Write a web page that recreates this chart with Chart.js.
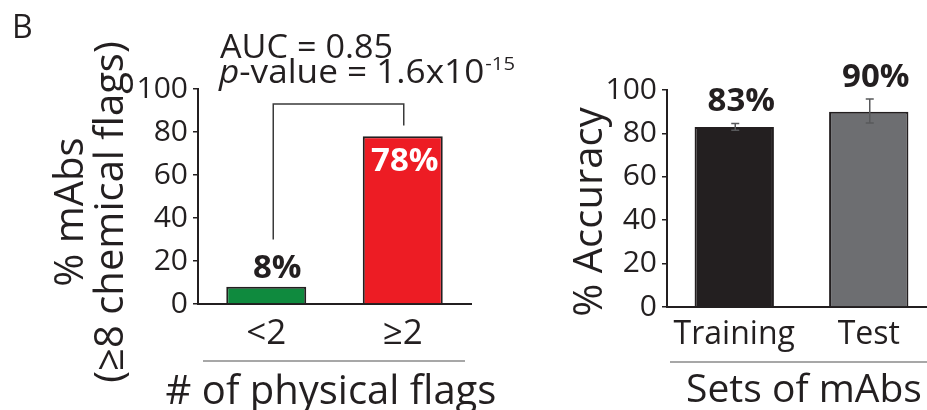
<!DOCTYPE html>
<html><head><meta charset="utf-8">
<script src="https://cdn.jsdelivr.net/npm/chart.js@4"></script>
<style>
html,body{margin:0;padding:0;background:#fff;width:927px;height:410px;overflow:hidden;position:relative}
.box{position:absolute;top:0;height:410px}
#boxL{left:0;width:540px}
#boxR{left:540px;width:400px}
canvas{display:block}
</style></head><body>
<div class="box" id="boxL"><canvas id="cL" width="540" height="410"></canvas></div>
<div class="box" id="boxR"><canvas id="cR" width="400" height="410"></canvas></div>
<script>
// ---- data ----
const panelLetter = 'B';
const physCategories = ['<2', '≥2'];
const physValues = [8, 78];
const physLabels = ['8%', '78%'];
const bracketLevels = [30, 93, 83];      // left foot, top bar, right foot (data units)
const aucText = 'AUC = 0.85';
const pItalic = 'p';
const pBody = '-value = 1.6x10';
const pExp = '-15';
const setCategories = ['Training', 'Test'];
const accValues = [83, 90];
const accErrLow = [81.4, 84.8];
const accErrHigh = [84.6, 95.8];
const accLabels = ['83%', '90%'];
const yTickValues = [0, 20, 40, 60, 80, 100];
const leftYTitle = ['% mAbs', '(≥8 chemical flags)'];
const leftXTitle = '# of physical flags';
const rightYTitle = '% Accuracy';
const rightXTitle = 'Sets of mAbs';

const FONT = "'Open Sans', sans-serif";
const INK = '#231f20';
Chart.defaults.font.family = FONT;
Chart.defaults.color = INK;

function text(ctx, s, x, y, font, color, align, baseline) {
  ctx.save();
  ctx.font = font; ctx.fillStyle = color;
  ctx.textAlign = align || 'center'; ctx.textBaseline = baseline || 'alphabetic';
  ctx.fillText(s, x, y);
  ctx.restore();
}
function vtext(ctx, s, x, y, font, color) {
  ctx.save();
  ctx.translate(x, y); ctx.rotate(-Math.PI / 2);
  ctx.font = font; ctx.fillStyle = color;
  ctx.textAlign = 'center'; ctx.textBaseline = 'middle';
  ctx.fillText(s, 0, 0);
  ctx.restore();
}
function hline(ctx, x1, x2, y, color, w) {
  ctx.save(); ctx.strokeStyle = color; ctx.lineWidth = w;
  ctx.beginPath(); ctx.moveTo(x1, y); ctx.lineTo(x2, y); ctx.stroke(); ctx.restore();
}
// draws a run of [string, font] pieces starting at x, horizontally scaled to span targetW
function runFit(ctx, pieces, x, y, targetW, color) {
  ctx.save();
  let w = 0;
  pieces.forEach(p => { ctx.font = p[1]; w += ctx.measureText(p[0]).width + (p[3] || 0); });
  const k = targetW / w;
  ctx.translate(x, y); ctx.scale(k, 1);
  ctx.fillStyle = color; ctx.textAlign = 'left'; ctx.textBaseline = 'alphabetic';
  let cx = 0;
  pieces.forEach(p => {
    ctx.font = p[1];
    ctx.fillText(p[0], cx + (p[3] || 0), p[2] || 0);
    cx += ctx.measureText(p[0]).width + (p[3] || 0);
  });
  ctx.restore();
}

function baseConfig(labels, values, colors, barPct, yWidth, xHeight, pad, xFont, drawExtra) {
  return {
    type: 'bar',
    data: { labels: labels, datasets: [{
      data: values, backgroundColor: colors, borderColor: INK, borderWidth: 2,
      barPercentage: barPct, categoryPercentage: 1
    }]},
    options: {
      responsive: false, animation: false, devicePixelRatio: 1,
      layout: { padding: pad },
      plugins: { legend: { display: false }, tooltip: { enabled: false } },
      scales: {
        x: {
          type: 'category', offset: true,
          grid: { display: true, drawOnChartArea: false, drawTicks: false },
          border: { display: true, color: INK, width: 2 },
          ticks: { font: { size: xFont }, color: INK, padding: 9, maxRotation: 0 },
          afterFit: s => { s.height = xHeight; }
        },
        y: {
          min: 0, max: 100,
          afterBuildTicks: s => { s.ticks = yTickValues.map(v => ({ value: v })); },
          grid: { display: true, drawOnChartArea: false, drawTicks: true, tickLength: 5, color: INK, lineWidth: 1.5 },
          border: { display: true, color: INK, width: 2 },
          ticks: { font: { size: 30 }, color: INK, padding: 5 },
          afterFit: s => { s.width = yWidth; }
        }
      }
    },
    plugins: [{ id: 'extra', afterDraw: drawExtra }]
  };
}

// ---- left panel ----
const cfgL = baseConfig(physCategories, physValues, ['#0f8a3e', '#ed1c24'], 0.586, 198, 106,
  { left: 0, top: 89, right: 69, bottom: 0 }, 35,
  chart => {
    const ctx = chart.ctx, xs = chart.scales.x, ys = chart.scales.y;
    text(ctx, panelLetter, 12, 38, '32px ' + FONT, INK, 'left');
    // annotation
    const F = '33px ' + FONT, FI = 'italic 33px ' + FONT;
    runFit(ctx, [[aucText, F]], 220, 58, 173, INK);
    runFit(ctx, [[pItalic, FI], [pBody, F], [pExp, '19px ' + FONT, -13, 1]], 219, 83, 296, INK);
    // bracket
    const bx1 = xs.getPixelForValue(0) + 7, bx2 = xs.getPixelForValue(1) + 1;
    ctx.save(); ctx.strokeStyle = '#3a3a3a'; ctx.lineWidth = 1.5;
    ctx.beginPath();
    ctx.moveTo(bx1, ys.getPixelForValue(bracketLevels[0]));
    ctx.lineTo(bx1, ys.getPixelForValue(bracketLevels[1]));
    ctx.lineTo(bx2, ys.getPixelForValue(bracketLevels[1]));
    ctx.lineTo(bx2, ys.getPixelForValue(bracketLevels[2]));
    ctx.stroke(); ctx.restore();
    // value labels
    text(ctx, physLabels[0], xs.getPixelForValue(0) + 11, ys.getPixelForValue(physValues[0]) - 9, 'bold 33px ' + FONT, INK);
    text(ctx, physLabels[1], xs.getPixelForValue(1) + 2, ys.getPixelForValue(physValues[1]) + 35, 'bold 33px ' + FONT, '#ffffff');
    // axis titles
    vtext(ctx, leftYTitle[0], 72, 212, '40px ' + FONT, INK);
    vtext(ctx, leftYTitle[1], 112, 212, '40px ' + FONT, INK);
    hline(ctx, 203, 465, 361, '#8a8a8a', 1.5);
    text(ctx, leftXTitle, 331, 404, '40px ' + FONT, INK);
  });
new Chart(document.getElementById('cL'), cfgL);

// ---- right panel ----
const cfgR = baseConfig(setCategories, accValues, ['#231f20', '#6d6e71'], 0.59, 127, 103,
  { left: 0, top: 90, right: 4, bottom: 0 }, 32,
  chart => {
    const ctx = chart.ctx, xs = chart.scales.x, ys = chart.scales.y;
    // error bars
    ctx.save(); ctx.strokeStyle = '#58595b'; ctx.lineWidth = 1.5;
    for (let i = 0; i < accValues.length; i++) {
      const x = xs.getPixelForValue(i) + 1, yl = ys.getPixelForValue(accErrLow[i]), yh = ys.getPixelForValue(accErrHigh[i]);
      ctx.beginPath();
      ctx.moveTo(x, yl); ctx.lineTo(x, yh);
      ctx.moveTo(x - 4, yl); ctx.lineTo(x + 4, yl);
      ctx.moveTo(x - 4, yh); ctx.lineTo(x + 4, yh);
      ctx.stroke();
    }
    ctx.restore();
    for (let i = 0; i < accValues.length; i++) {
      text(ctx, accLabels[i], xs.getPixelForValue(i) + 7, ys.getPixelForValue(accErrHigh[i]) - 12, 'bold 33px ' + FONT, INK);
    }
    vtext(ctx, rightYTitle, 51, 212, '40px ' + FONT, INK);
    hline(ctx, 130, 400, 362, '#8a8a8a', 1.5);
    text(ctx, rightXTitle, 264, 402, '39px ' + FONT, INK);
  });
new Chart(document.getElementById('cR'), cfgR);
</script>
</body></html>
